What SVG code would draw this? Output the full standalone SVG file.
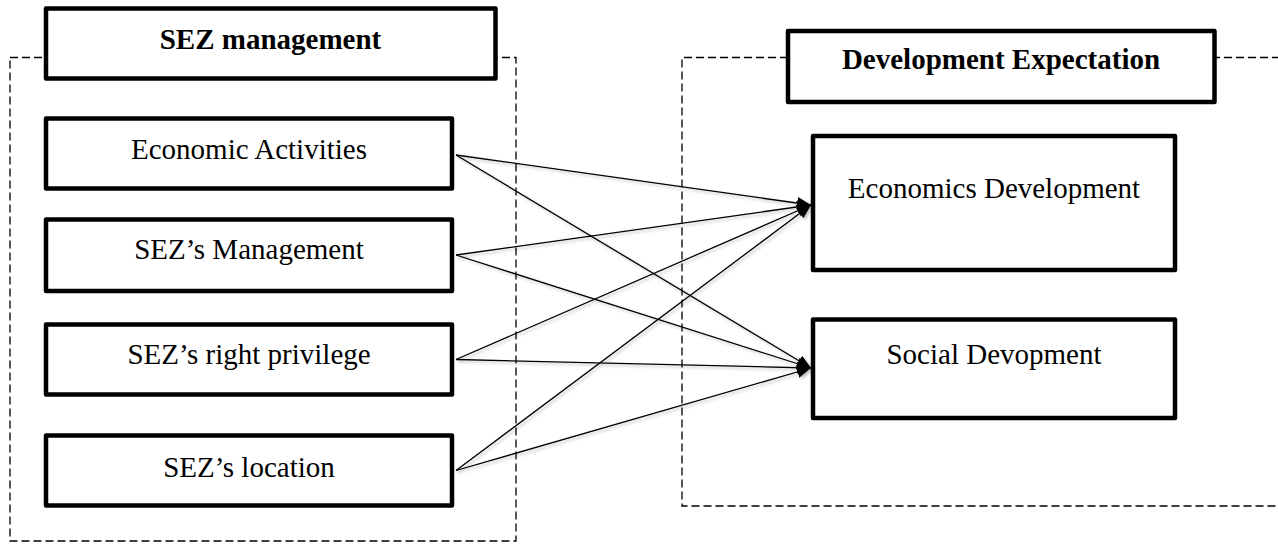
<svg xmlns="http://www.w3.org/2000/svg" width="1278" height="544" viewBox="0 0 1278 544">
<style>
.box{fill:#fff;stroke:#000;stroke-width:4.5;stroke-linejoin:round}
.dash{fill:none;stroke:#000;stroke-width:1.3;stroke-dasharray:8 4}
.t{font-family:"Liberation Serif","Times New Roman",serif;font-size:29px;fill:#000;text-anchor:middle}
.b{font-weight:bold}
.c{stroke:#000;stroke-width:1.3;fill:none;marker-end:url(#arr)}
</style>
<defs>
<marker id="arr" viewBox="0 0 14 12" refX="14" refY="6" markerWidth="14" markerHeight="12" markerUnits="userSpaceOnUse" orient="auto">
<path d="M0,0 L14,6 L0,12 z" fill="#000"/>
</marker>
<filter id="sh" x="-5%" y="-5%" width="110%" height="110%">
<feDropShadow dx="2" dy="2" stdDeviation="1.5" flood-color="#000" flood-opacity="0.25"/>
</filter>
</defs>
<g id="frames">
<rect class="dash" x="10" y="57.5" width="506" height="483.5"/>
<path class="dash" d="M1280,57.5 H682 V506 H1280"/>
</g>
<g id="sez-management">
<rect class="box" x="46" y="8.5" width="449.5" height="70"/>
<text class="t b" x="270.5" y="49">SEZ management</text>
</g>
<g id="development-expectation">
<rect class="box" x="788" y="31" width="426.5" height="71"/>
<text class="t b" x="1001" y="69">Development Expectation</text>
</g>
<g id="economic-activities">
<rect class="box" x="46" y="118.5" width="406" height="70"/>
<text class="t" x="249" y="158.6">Economic Activities</text>
</g>
<g id="sez-s-management">
<rect class="box" x="46" y="219.5" width="406" height="71.5"/>
<text class="t" x="249" y="259.3">SEZ’s Management</text>
</g>
<g id="sez-s-right-privilege">
<rect class="box" x="46" y="324.5" width="406" height="70"/>
<text class="t" x="249" y="364">SEZ’s right privilege</text>
</g>
<g id="sez-s-location">
<rect class="box" x="46" y="435.5" width="406" height="70"/>
<text class="t" x="249" y="476.7">SEZ’s location</text>
</g>
<g id="economics-development">
<rect class="box" x="813" y="136" width="362" height="134"/>
<text class="t" x="994" y="198">Economics Development</text>
</g>
<g id="social-devopment">
<rect class="box" x="813" y="319.5" width="362" height="98.5"/>
<text class="t" x="994" y="364">Social Devopment</text>
</g>
<g id="connectors" filter="url(#sh)">
<line class="c" x1="456" y1="155" x2="811" y2="205"/>
<line class="c" x1="456" y1="155" x2="811" y2="368"/>
<line class="c" x1="456" y1="255" x2="811" y2="205"/>
<line class="c" x1="456" y1="255" x2="811" y2="368"/>
<line class="c" x1="456" y1="359.5" x2="811" y2="205"/>
<line class="c" x1="456" y1="359.5" x2="811" y2="368"/>
<line class="c" x1="456" y1="470.5" x2="811" y2="205"/>
<line class="c" x1="456" y1="470.5" x2="811" y2="368"/>
</g>
</svg>
